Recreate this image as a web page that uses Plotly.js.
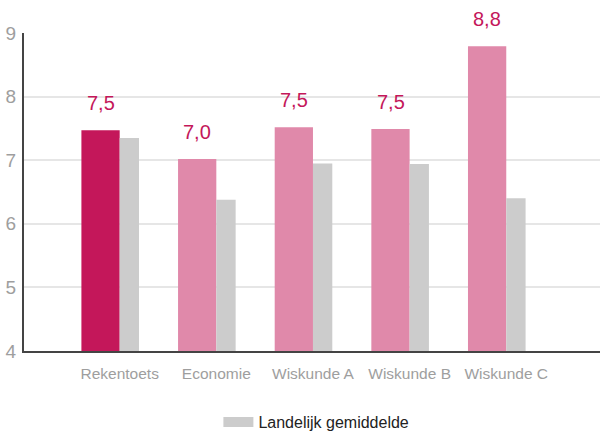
<!DOCTYPE html>
<html>
<head>
<meta charset="utf-8">
<script src="https://cdn.plot.ly/plotly-3.0.1.min.js"></script>
<style>html,body{margin:0;padding:0;background:#fff;}#chart{width:600px;height:433px;}</style>
</head>
<body>
<div id="chart"></div>
<script>
const categories = ['Rekentoets', 'Economie', 'Wiskunde A', 'Wiskunde B', 'Wiskunde C'];
const schoolValues = [7.47, 7.02, 7.52, 7.49, 8.79];
const nationalValues = [7.35, 6.38, 6.95, 6.94, 6.40];
const nationalName = 'Landelijk gemiddelde';
const schoolColors = ['#C4175A', '#E089AA', '#E089AA', '#E089AA', '#E089AA'];
const yTicks = [4, 5, 6, 7, 8, 9];

const labels = schoolValues.map(v => v.toFixed(1).replace('.', ','));

const FONT = 'Liberation Sans, Arial, sans-serif';

const traces = [
  {
    type: 'bar', x: categories, y: schoolValues,
    width: 0.396, offset: -0.396,
    marker: {color: schoolColors},
    showlegend: false, hoverinfo: 'none'
  },
  {
    type: 'bar', x: categories, y: nationalValues,
    width: 0.2, offset: 0,
    marker: {color: '#CCCCCC'},
    showlegend: false, hoverinfo: 'none'
  },
  {
    type: 'scatter', mode: 'lines', x: [null], y: [null],
    name: nationalName,
    line: {color: '#CCCCCC', width: 12},
    showlegend: true, hoverinfo: 'none'
  }
];

const annotations = categories.map((c, i) => ({
  x: c, y: schoolValues[i], xref: 'x', yref: 'y',
  text: labels[i], showarrow: false,
  xshift: -19, yshift: 14, yanchor: 'bottom',
  font: {family: FONT, size: 20, color: '#C4175A'}
}));

const layout = {
  width: 600, height: 433,
  margin: {l: 24, r: 0, t: 33, b: 82, autoexpand: false},
  paper_bgcolor: '#fff', plot_bgcolor: '#fff',
  barmode: 'overlay',
  font: {family: FONT},
  xaxis: {
    type: 'category', range: [-0.99, 4.97],
    showline: true, linecolor: '#444', linewidth: 2,
    showgrid: false, ticks: '', zeroline: false, ticklabelstandoff: 7,
    tickfont: {family: FONT, size: 15.5, color: '#9E9E9E'}
  },
  yaxis: {
    range: [4, 9], tickvals: yTicks, ticktext: yTicks.map(String),
    showline: true, linecolor: '#444', linewidth: 2,
    showgrid: true, gridcolor: '#E6E6E6', gridwidth: 2,
    zeroline: false, ticks: '', ticklabelstandoff: 2,
    tickfont: {family: FONT, size: 19, color: '#9E9E9E'}
  },
  legend: {
    orientation: 'h', xref: 'container', yref: 'container',
    x: 0.364, xanchor: 'left', y: 0.0254, yanchor: 'middle',
    font: {family: FONT, size: 16, color: '#222'},
    bgcolor: 'rgba(0,0,0,0)'
  },
  annotations: annotations
};

Plotly.newPlot('chart', traces, layout, {displayModeBar: false, staticPlot: true});
</script>
</body>
</html>
